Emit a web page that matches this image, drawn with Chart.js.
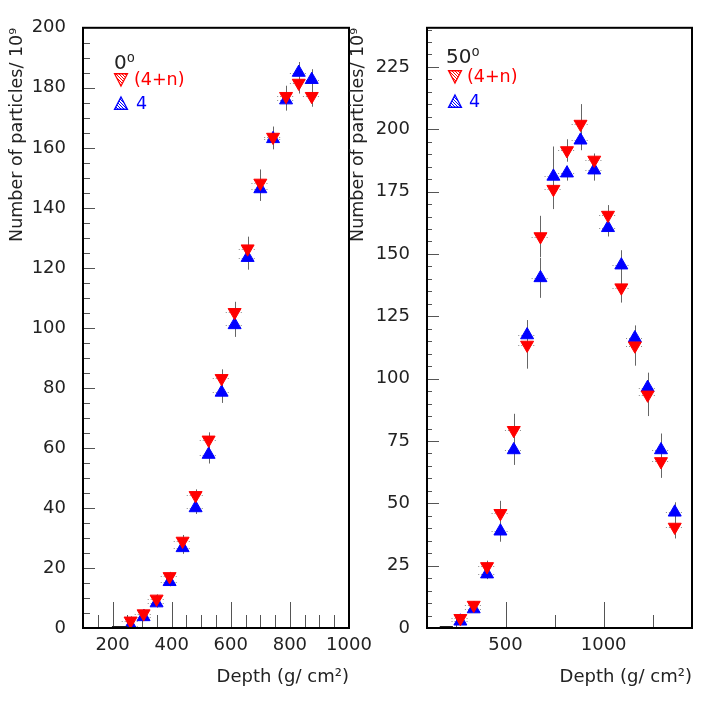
<!DOCTYPE html>
<html><head><meta charset="utf-8">
<script src="https://cdn.jsdelivr.net/npm/chart.js@4/dist/chart.umd.min.js"></script>
<style>
html,body{margin:0;padding:0;background:#fff;}
#wrap{position:relative;width:708px;height:706px;overflow:hidden;}
canvas{position:absolute;left:0;top:0;}
</style></head><body>
<div id="wrap"><canvas id="c1" width="708" height="706"></canvas><canvas id="c2" width="708" height="706"></canvas></div>
<script>
// ---------- 0 degree panel ----------
const depth0 = [261, 305, 349, 393, 437, 481, 525, 569, 613, 657, 700, 743, 787, 830, 874];
const n4n0 = [2.4, 4.8, 9.7, 17.2, 29.0, 44.2, 62.7, 83.2, 105.2, 126.4, 148.3, 163.6, 177.2, 181.6, 177.2];
const n4n0Err = [1.5, 1.5, 1.5, 1.5, 2, 2, 2.5, 3, 3.5, 4, 4.5, 3.5, 3.5, 3.5, 3.5];
const n40 = [0.8, 3.7, 8.3, 15.4, 26.7, 40.0, 57.8, 78.5, 101.0, 123.4, 146.3, 163.0, 175.9, 185.1, 182.7];
const n40Err = [1.2, 1.2, 1.5, 1.5, 2, 2, 3, 3.5, 4, 4, 4, 3.5, 3.5, 3.5, 3.5];
const base0X = [198, 250];
const base0Y = [0.4, 0.4];
const xLabels0 = [200, 400, 600, 800, 1000];
const yLabels0 = [0, 20, 40, 60, 80, 100, 120, 140, 160, 180, 200];

// ---------- 50 degree panel ----------
const depth50 = [270, 338, 406, 474, 542, 610, 678, 744, 813, 882, 952, 1022, 1090, 1159, 1224, 1292, 1362];
const n4n50 = [3.9, 9.2, 24.7, 46.0, 79.3, 113.5, 157.0, 176.0, 191.5, 202.1, 187.7, 165.6, 136.5, 113.2, 93.5, 66.8, 40.5];
const n4n50Err = [1.5, 1.5, 2.3, 5, 6.6, 9.5, 8.3, 8, 4.5, 8, 2.6, 4, 6, 8, 8.5, 6.6, 4.6];
const n450 = [2.7, 7.6, 21.6, 38.8, 71.4, 117.5, 140.4, 181.1, 182.4, 195.6, 183.6, 160.5, 145.5, 116.3, 96.4, 71.4, 46.4];
const n450Err = [1.5, 1.5, 2, 4.2, 6, 6, 8, 12, 3, 4, 4.2, 3.5, 6, 5, 6, 6.6, 4];
const base50X = [165, 232];
const base50Y = [0.5, 0.5];
const xLabels50 = [500, 1000];
const yLabels50 = [0, 25, 50, 75, 100, 125, 150, 175, 200, 225];

const panelTitles = ['0\u2070', '50\u2070'];
const seriesNames = ['(4+n)', '4'];
const xTitle = 'Depth (g/ cm\u00B2)';
const yTitle = 'Number of particles/ 10\u2079';

const FONT = "'DejaVu Sans', sans-serif";
const RED = '#ff0000', BLUE = '#0000ff', INK = '#222222';

function pts(xs, ys) { return xs.map((x, i) => ({x: x, y: ys[i]})); }

function hatchPattern(ctx, color) {
  const c = document.createElement('canvas'); c.width = 3; c.height = 3;
  const g = c.getContext('2d');
  g.fillStyle = '#fff'; g.fillRect(0,0,3,3);
  g.fillStyle = color; g.fillRect(0,0,1,1); g.fillRect(1,1,1,1); g.fillRect(2,2,1,1);
  return ctx.createPattern(c, 'repeat');
}

const panelPlugin = {
  id: 'panel',
  beforeDatasetsDraw(chart, args, o) {
    const {ctx, chartArea: a} = chart;
    const xs = chart.scales.x, ys = chart.scales.y;
    ctx.save();
    ctx.lineWidth = 1;
    ctx.strokeStyle = '#555';
    const line = (x1, y1, x2, y2) => { ctx.beginPath(); ctx.moveTo(x1, y1); ctx.lineTo(x2, y2); ctx.stroke(); };
    // x ticks, drawn inside the frame pointing up
    for (let v = o.xMin; v <= o.xMax + 1e-9; v += o.xMinorStep) {
      const px = Math.round(xs.getPixelForValue(v)) + 0.5;
      if (px <= a.left + 1 || px >= a.right - 1) continue;
      const major = Math.abs(v / o.xMajorStep - Math.round(v / o.xMajorStep)) < 1e-9;
      line(px, a.bottom, px, a.bottom - (major ? o.xMajorLen : o.xMinorLen));
    }
    // y ticks, inside pointing right
    for (let v = 0; v <= ys.max + 1e-9; v += o.yMinorStep) {
      const py = Math.round(ys.getPixelForValue(v)) + 0.5;
      if (py <= a.top + 1 || py >= a.bottom - 1) continue;
      const major = Math.abs(v / o.yMajorStep - Math.round(v / o.yMajorStep)) < 1e-9;
      line(a.left, py, a.left + (major ? o.yMajorLen : o.yMinorLen), py);
    }
    // error bars
    o.errors.forEach(e => {
      e.x.forEach((xv, i) => {
        const px = Math.round(xs.getPixelForValue(xv)) + 0.5;
        const py = ys.getPixelForValue(e.y[i]);
        ctx.strokeStyle = '#666'; ctx.setLineDash([]);
        line(px, ys.getPixelForValue(e.y[i] + e.err[i]), px, ys.getPixelForValue(Math.max(0, e.y[i] - e.err[i])));
        ctx.strokeStyle = '#888'; ctx.setLineDash([1, 2]);
        const pl = xs.getPixelForValue(xv - o.xErr), pr = xs.getPixelForValue(xv + o.xErr);
        line(pl, Math.round(py) + 0.5, pr, Math.round(py) + 0.5);
        ctx.setLineDash([]);
      });
    });
    ctx.restore();
  },
  afterDatasetsDraw(chart, args, o) {
    const {ctx, chartArea: a} = chart;
    ctx.save();
    // frame
    ctx.strokeStyle = '#000'; ctx.lineWidth = 2;
    ctx.strokeRect(a.left, a.top, a.right - a.left, a.bottom - a.top);
    // legend
    const L = o.legend;
    ctx.fillStyle = INK;
    ctx.textBaseline = 'alphabetic';
    ctx.font = '20px ' + FONT;
    ctx.fillText(L.title, L.tx, L.ty);
    const tri = (cx, cy, r, down, color) => {
      ctx.beginPath();
      const s = down ? -1 : 1;
      ctx.moveTo(cx, cy - s * r);
      ctx.lineTo(cx + r * 0.92, cy + s * r * 0.75);
      ctx.lineTo(cx - r * 0.92, cy + s * r * 0.75);
      ctx.closePath();
      ctx.fillStyle = hatchPattern(ctx, color);
      ctx.fill();
      ctx.strokeStyle = color; ctx.lineWidth = 1.3; ctx.stroke();
    };
    tri(L.mx, L.r1y, 7, true, RED);
    tri(L.mx, L.r2y, 7, false, BLUE);
    ctx.font = '17.5px ' + FONT;
    ctx.textBaseline = 'middle';
    ctx.fillStyle = RED; ctx.fillText(L.names[0], L.lx, L.r1y + 1);
    ctx.fillStyle = BLUE; ctx.fillText(L.names[1], L.lx + 2, L.r2y);
    ctx.restore();
  }
};
Chart.register(panelPlugin);

function makePanel(id, p) {
  return new Chart(document.getElementById(id), {
    type: 'scatter',
    data: {
      datasets: [
        { label: 'base', data: pts(p.baseX, p.baseY), showLine: true, borderColor: '#222', borderWidth: 1.5, pointRadius: 0 },
        { label: seriesNames[0], data: pts(p.depth, p.red), pointStyle: 'triangle', rotation: 180, pointRadius: 7.5,
          backgroundColor: RED, borderColor: RED, borderWidth: 1 },
        { label: seriesNames[1], data: pts(p.depth, p.blue), pointStyle: 'triangle', rotation: 0, pointRadius: 7.5,
          backgroundColor: BLUE, borderColor: BLUE, borderWidth: 1 }
      ]
    },
    options: {
      responsive: false, animation: false, events: [], devicePixelRatio: 1,
      layout: { padding: p.pad },
      plugins: {
        legend: { display: false }, tooltip: { enabled: false },
        panel: p.panel
      },
      scales: {
        x: {
          type: 'linear', min: p.xMin, max: p.xMax,
          afterFit: s => { s.height = 78; },
          afterBuildTicks: s => { s.ticks = p.xLabels.map(v => ({value: v})); },
          grid: { display: false, drawTicks: false }, border: { display: false },
          ticks: { color: INK, font: { family: FONT, size: 18 }, padding: 7, maxRotation: 0, autoSkip: false,
                   callback: v => String(v) },
          title: { display: true, text: xTitle, align: 'end', color: INK, font: { family: FONT, size: 18 }, padding: { top: 0, bottom: 18 } }
        },
        y: {
          type: 'linear', min: 0, max: p.yMax,
          afterFit: s => { s.width = p.yWidth; },
          afterBuildTicks: s => { s.ticks = p.yLabels.map(v => ({value: v})); },
          grid: { display: false, drawTicks: false }, border: { display: false },
          ticks: { color: INK, font: { family: FONT, size: 18 }, padding: 17, autoSkip: false,
                   callback: v => String(v) },
          title: { display: true, text: yTitle, align: 'end', color: INK, font: { family: FONT, size: 17.5 }, padding: { top: p.yTitlePad, bottom: 0 } }
        }
      }
    }
  });
}

makePanel('c1', {
  depth: depth0, red: n4n0, blue: n40, baseX: base0X, baseY: base0Y,
  xMin: 100, xMax: 1000, yMax: 200, xLabels: xLabels0, yLabels: yLabels0,
  pad: { left: 0, top: 18, right: 359, bottom: 0 }, yWidth: 83, yTitlePad: 7,
  panel: {
    xMin: 100, xMax: 1000, xMinorStep: 50, xMajorStep: 200, xMajorLen: 26, xMinorLen: 13,
    yMinorStep: 5, yMajorStep: 20, yMajorLen: 12, yMinorLen: 7, xErr: 30,
    errors: [ {x: depth0, y: n4n0, err: n4n0Err}, {x: depth0, y: n40, err: n40Err} ],
    legend: { title: panelTitles[0], tx: 114, ty: 69, mx: 121, r1y: 79, r2y: 104, lx: 134, names: seriesNames }
  }
});

makePanel('c2', {
  depth: depth50, red: n4n50, blue: n450, baseX: base50X, baseY: base50Y,
  xMin: 100, xMax: 1450, yMax: 240.7, xLabels: xLabels50, yLabels: yLabels50,
  pad: { left: 345, top: 18, right: 16, bottom: 0 }, yWidth: 82, yTitlePad: 3,
  panel: {
    xMin: 250, xMax: 1450, xMinorStep: 250, xMajorStep: 500, xMajorLen: 26, xMinorLen: 13,
    yMinorStep: 5, yMajorStep: 25, yMajorLen: 12, yMinorLen: 5, xErr: 45,
    errors: [ {x: depth50, y: n4n50, err: n4n50Err}, {x: depth50, y: n450, err: n450Err} ],
    legend: { title: panelTitles[1], tx: 446, ty: 63, mx: 455, r1y: 76, r2y: 102, lx: 467, names: seriesNames }
  }
});
</script>
</body></html>
